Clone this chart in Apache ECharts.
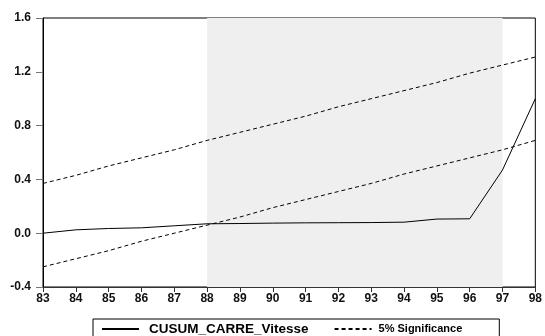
<!DOCTYPE html>
<html>
<head>
<meta charset="utf-8">
<script src="https://cdn.jsdelivr.net/npm/echarts@6/dist/echarts.min.js"></script>
<style>
  html, body { margin: 0; padding: 0; background: #fff; }
  #chart { width: 545px; height: 336px; }
</style>
</head>
<body>
<div id="chart"></div>
<script>
// années (83..98)
const years = [83, 84, 85, 86, 87, 88, 89, 90, 91, 92, 93, 94, 95, 96, 97, 98];
const cusumCarre = [0.0, 0.025, 0.035, 0.04, 0.055, 0.07, 0.072, 0.075, 0.077, 0.078, 0.079, 0.082, 0.105, 0.107, 0.47, 1.0];
const bandUpper = [0.37, 0.43, 0.50, 0.56, 0.62, 0.69, 0.75, 0.81, 0.87, 0.94, 1.00, 1.06, 1.12, 1.19, 1.25, 1.31];
const bandLower = [-0.25, -0.19, -0.13, -0.06, 0.00, 0.06, 0.12, 0.19, 0.25, 0.31, 0.37, 0.44, 0.50, 0.56, 0.62, 0.69];
const yTicks = [-0.4, 0.0, 0.4, 0.8, 1.2, 1.6];
const shadeFrom = 88;
const shadeTo = 97;

const pairs = arr => years.map((y, i) => [y, arr[i]]);

const chart = echarts.init(document.getElementById('chart'));

const labelFont = {
  fontFamily: 'Liberation Sans, Arial, sans-serif',
  fontWeight: 'bold',
  fontSize: 12,
  color: '#111'
};

const dashed = { color: '#000', width: 1, type: [4, 3] };

chart.setOption({
  animation: false,
  grid: {
    left: 43, right: 3, top: 18, bottom: 49,
    show: true, borderColor: '#000', borderWidth: 1, backgroundColor: 'transparent'
  },
  xAxis: {
    type: 'value',
    min: years[0], max: years[years.length - 1], interval: 1,
    axisLine: { show: true, onZero: false, lineStyle: { color: '#333' } },
    axisTick: { show: true, length: 5, lineStyle: { color: '#333' } },
    axisLabel: Object.assign({ margin: 6 }, labelFont),
    splitLine: { show: false }
  },
  yAxis: {
    type: 'value',
    min: yTicks[0], max: yTicks[yTicks.length - 1], interval: 0.4,
    axisLine: { show: true, onZero: false, lineStyle: { color: '#000' } },
    axisTick: { show: true, length: 7, lineStyle: { color: '#777' } },
    axisLabel: Object.assign({ margin: 12, formatter: v => v.toFixed(1) }, labelFont),
    splitLine: { show: false }
  },
  legend: {
    left: 93, top: 319,
    padding: [3, 37, 14, 8],
    borderColor: '#000', borderWidth: 1,
    itemWidth: 37, itemHeight: 10, itemGap: 25,
    itemStyle: { opacity: 0 },
    data: [
      { name: 'CUSUM_CARRE_Vitesse', textStyle: { fontSize: 13.5, fontWeight: 'bold', fontFamily: 'Liberation Sans, Arial, sans-serif', color: '#000', padding: [0, 0, 0, 5] } },
      { name: '5% Significance', textStyle: { fontSize: 11, fontWeight: 'bold', fontFamily: 'Liberation Sans, Arial, sans-serif', color: '#000', padding: [0, 0, 0, 2] } }
    ]
  },
  series: [
    {
      name: 'CUSUM_CARRE_Vitesse',
      type: 'line',
      data: pairs(cusumCarre),
      symbol: 'none',
      lineStyle: { color: '#000', width: 1 },
      itemStyle: { color: '#000' },
      z: 3,
      markArea: {
        silent: true,
        itemStyle: { color: '#efefef' },
        data: [[{ xAxis: shadeFrom }, { xAxis: shadeTo }]]
      }
    },
    {
      name: '5% Significance',
      type: 'line',
      data: pairs(bandUpper),
      symbol: 'none',
      lineStyle: dashed,
      itemStyle: { color: '#000' }
    },
    {
      name: '5% Significance',
      type: 'line',
      data: pairs(bandLower),
      symbol: 'none',
      lineStyle: dashed,
      itemStyle: { color: '#000' }
    }
  ]
});
</script>
</body>
</html>
